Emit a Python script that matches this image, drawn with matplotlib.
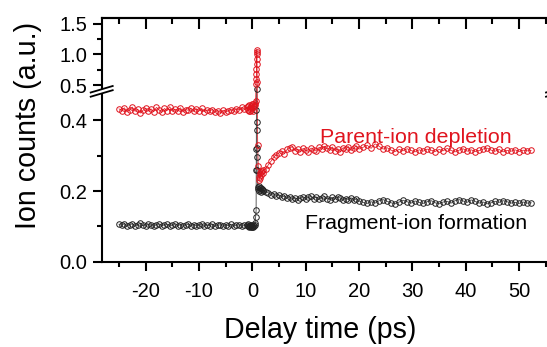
import numpy as np
import matplotlib
matplotlib.use("Agg")
import matplotlib.pyplot as plt
from matplotlib.lines import Line2D
from matplotlib.patches import Polygon

plt.rcParams['font.family'] = ['Liberation Sans', 'DejaVu Sans']
plt.rcParams['axes.unicode_minus'] = False

# ---------------- data ----------------
t_pre = [-25.0, -24.5, -24.0, -23.5, -23.0, -22.5, -22.0, -21.5, -21.0, -20.5,
         -20.0, -19.5, -19.0, -18.5, -18.0, -17.5, -17.0, -16.5, -16.0, -15.5,
         -15.0, -14.5, -14.0, -13.5, -13.0, -12.5, -12.0, -11.5, -11.0, -10.5,
         -10.0, -9.5, -9.0, -8.5, -8.0, -7.5, -7.0, -6.5, -6.0, -5.5,
         -5.0, -4.5, -4.0, -3.5, -3.0, -2.5, -2.0, -1.5]
t_zero = [-1.0, -0.9, -0.8, -0.7, -0.6, -0.5, -0.4, -0.3, -0.2, -0.1,
          0.0, 0.1, 0.2, 0.3, 0.4, 0.5, 0.6,
          0.70, 0.72, 0.74, 0.76, 0.78, 0.80, 0.82, 0.84, 0.86,
          0.9, 1.0, 1.1, 1.2, 1.3, 1.4, 1.5, 1.6, 1.7, 1.8, 1.9, 2.0]
t_mid = [2.5, 3.0, 3.5, 4.0, 4.5, 5.0, 5.5, 6.0, 6.5, 7.0, 7.5, 8.0,
         8.5, 9.0, 9.5, 10.0, 10.5, 11.0, 11.5, 12.0, 12.5, 13.0, 13.5, 14.0,
         14.5, 15.0, 15.5, 16.0, 16.5, 17.0, 17.5, 18.0, 18.5, 19.0, 19.5, 20.0]
t_late = [20.75, 21.5, 22.25, 23.0, 23.75, 24.5, 25.25, 26.0, 26.75, 27.5,
          28.25, 29.0, 29.75, 30.5, 31.25, 32.0, 32.75, 33.5, 34.25, 35.0,
          35.75, 36.5, 37.25, 38.0, 38.75, 39.5, 40.25, 41.0, 41.75, 42.5,
          43.25, 44.0, 44.75, 45.5, 46.25, 47.0, 47.75, 48.5, 49.25, 50.0,
          50.75, 51.5, 52.25]

parent_pre = [0.433, 0.428, 0.436, 0.424, 0.431, 0.438, 0.426, 0.432, 0.421, 0.429,
              0.435, 0.427, 0.433, 0.425, 0.437, 0.430, 0.423, 0.434, 0.428, 0.439,
              0.426, 0.432, 0.427, 0.436, 0.424, 0.431, 0.429, 0.435, 0.426, 0.433,
              0.428, 0.434, 0.425, 0.430, 0.427, 0.431, 0.424, 0.428, 0.422, 0.429,
              0.425, 0.427, 0.431, 0.426, 0.433, 0.430, 0.437, 0.432]
parent_zero = [0.437, 0.430, 0.441, 0.428, 0.445, 0.434, 0.426, 0.442, 0.431, 0.446,
               0.436, 0.428, 0.447, 0.440, 0.450, 0.443, 0.455,
               0.520, 0.600, 0.680, 0.760, 0.840, 0.920, 1.000, 1.080, 1.040,
               0.550, 0.330, 0.270, 0.240, 0.232, 0.250, 0.238, 0.255, 0.245, 0.258, 0.250, 0.260]
parent_mid = [0.262, 0.275, 0.285, 0.296, 0.303, 0.309, 0.314, 0.306, 0.318, 0.322,
              0.326, 0.314, 0.319, 0.311, 0.321, 0.316, 0.312, 0.322, 0.317, 0.313,
              0.324, 0.319, 0.327, 0.321, 0.316, 0.325, 0.314, 0.320, 0.311, 0.323,
              0.318, 0.326, 0.315, 0.322, 0.328, 0.319]
parent_late = [0.324, 0.330, 0.321, 0.334, 0.327, 0.319, 0.323, 0.316, 0.312, 0.318,
               0.314, 0.320, 0.315, 0.311, 0.317, 0.313, 0.319, 0.316, 0.312, 0.318,
               0.314, 0.321, 0.315, 0.311, 0.316, 0.320, 0.313, 0.317, 0.312, 0.315,
               0.319, 0.322, 0.316, 0.313, 0.318, 0.311, 0.315, 0.313, 0.317, 0.312,
               0.316, 0.314, 0.315]

frag_pre = [0.106, 0.103, 0.108, 0.101, 0.105, 0.107, 0.102, 0.104, 0.109, 0.103,
            0.101, 0.106, 0.104, 0.100, 0.105, 0.107, 0.102, 0.104, 0.106, 0.101,
            0.103, 0.108, 0.102, 0.105, 0.100, 0.104, 0.106, 0.102, 0.105, 0.101,
            0.103, 0.107, 0.100, 0.104, 0.102, 0.106, 0.101, 0.103, 0.105, 0.100,
            0.104, 0.102, 0.106, 0.101, 0.103, 0.105, 0.100, 0.103]
frag_zero = [0.104, 0.100, 0.106, 0.101, 0.099, 0.104, 0.100, 0.097, 0.103, 0.099,
             0.101, 0.098, 0.104, 0.100, 0.105, 0.110, 0.127,
             0.146, 0.260, 0.320, 0.430, 0.490, 0.397, 0.373, 0.322, 0.297,
             0.260, 0.212, 0.205, 0.215, 0.200, 0.208, 0.202, 0.210, 0.198, 0.205, 0.200, 0.203]
frag_mid = [0.198, 0.195, 0.190, 0.193, 0.186, 0.189, 0.183, 0.186, 0.180, 0.184,
            0.177, 0.181, 0.176, 0.180, 0.184, 0.178, 0.182, 0.186, 0.179, 0.183,
            0.177, 0.181, 0.185, 0.179, 0.176, 0.182, 0.178, 0.184, 0.180, 0.175,
            0.179, 0.176, 0.181, 0.174, 0.178, 0.172]
frag_late = [0.168, 0.165, 0.170, 0.166, 0.173, 0.176, 0.171, 0.167, 0.164, 0.169,
             0.174, 0.170, 0.166, 0.172, 0.168, 0.165, 0.170, 0.173, 0.167, 0.164,
             0.169, 0.171, 0.166, 0.173, 0.176, 0.172, 0.168, 0.175, 0.171, 0.166,
             0.169, 0.164, 0.167, 0.171, 0.168, 0.173, 0.170, 0.166, 0.168, 0.165,
             0.169, 0.166, 0.167]

y_major = [0.0, 0.2, 0.4, 0.5, 1.0, 1.5]
y_major_labels = ['0.0', '0.2', '0.4', '0.5', '1.0', '1.5']
y_minor = [0.1, 0.3, 0.75, 1.25]
x_major = [-20, -10, 0, 10, 20, 30, 40, 50]
x_minor = [-25, -15, -5, 5, 15, 25, 35, 45, 55]

t_all = t_pre + t_zero + t_mid + t_late
parent = parent_pre + parent_zero + parent_mid + parent_late
frag = frag_pre + frag_zero + frag_mid + frag_late

# ---------------- broken y scale ----------------
K = 0.174
BRK = 0.5

def fwd(y):
    y = np.asarray(y, dtype=float)
    return np.where(y <= BRK, y, BRK + (y - BRK) * K)

def inv(f):
    f = np.asarray(f, dtype=float)
    return np.where(f <= BRK, f, BRK + (f - BRK) / K)

W, H = 547, 347
fig = plt.figure(figsize=(W / 100, H / 100), dpi=100)
x0, x1 = 101.7, 557.0
ytop, ybot = 18.3, 261.7
ax = fig.add_axes([x0 / W, (H - ybot) / H, (x1 - x0) / W, (ybot - ytop) / H])
ax.set_yscale('function', functions=(fwd, inv))
ax.set_xlim(-28.25, 57.1)
ax.set_ylim(0, 1.589)

red = '#e0141e'
ax.plot(t_all, frag, '-', color='#606060', lw=0.7, zorder=2)
ax.plot(t_all, frag, 'o', ms=4.0, mfc='none', mec='#222222', mew=0.7, zorder=3)
ax.plot(t_all, parent, '-', color=red, lw=0.5, zorder=2)
ax.plot(t_all, parent, 'o', ms=4.0, mfc='none', mec=red, mew=0.7, zorder=3)

ax.set_yticks(y_major)
ax.set_yticklabels(y_major_labels)
ax.set_yticks(y_minor, minor=True)
ax.set_xticks(x_major)
ax.set_xticks(x_minor, minor=True)

for s in ax.spines.values():
    s.set_linewidth(1.5)
ax.tick_params(axis='both', which='major', labelsize=14.5, width=1.5, length=6.5)
ax.tick_params(axis='both', which='minor', width=1.5, length=3.8)
ax.tick_params(axis='y', which='both', direction='out', right=False, pad=4)
ax.tick_params(axis='x', which='both', direction='out', bottom=True, top=False, pad=8)

# top axis with inward ticks
ax_top = ax.secondary_xaxis('top')
ax_top.set_xticks(x_major)
ax_top.set_xticks(x_minor, minor=True)
ax_top.tick_params(axis='x', which='major', direction='in', length=8, width=1.5, labeltop=False)
ax_top.tick_params(axis='x', which='minor', direction='in', length=4.5, width=1.5)
ax_top.set_xticklabels([])
ax_top.spines['top'].set_linewidth(1.5)

ax.text(12.68, 0.337, 'Parent-ion depletion', color=red, fontsize=15.4,
        ha='left', va='baseline')
ax.text(9.88, 0.0918, 'Fragment-ion formation', color='black', fontsize=15.4,
        ha='left', va='baseline')

fig.text(320 / W, 1 - 330 / H, 'Delay time (ps)', fontsize=20.6, ha='center', va='center')
fig.text(28 / W, 1 - 125 / H, 'Ion counts (a.u.)', fontsize=20.6, ha='center', va='center',
         rotation=90)

# break marks on spines (pixel coords -> figure fraction)
def px(x, y):
    return (x / W, 1 - y / H)

for xs in (x0, x1):
    dx = 11.0
    ya, yb = 92.5, 86.0   # upper line: left y, right y
    gap = 4.2
    p1 = px(xs - dx, ya); p2 = px(xs + dx, yb)
    p3 = px(xs + dx, yb + gap); p4 = px(xs - dx, ya + gap)
    fig.add_artist(Polygon([p1, p2, p3, p4], closed=True, facecolor='white',
                           edgecolor='none', transform=fig.transFigure, zorder=10))
    for off in (0, gap):
        a = px(xs - dx, ya + off); b = px(xs + dx, yb + off)
        fig.add_artist(Line2D([a[0], b[0]], [a[1], b[1]], color='black', lw=1.3,
                              transform=fig.transFigure, zorder=11))

fig.savefig('out.png', dpi=100)
